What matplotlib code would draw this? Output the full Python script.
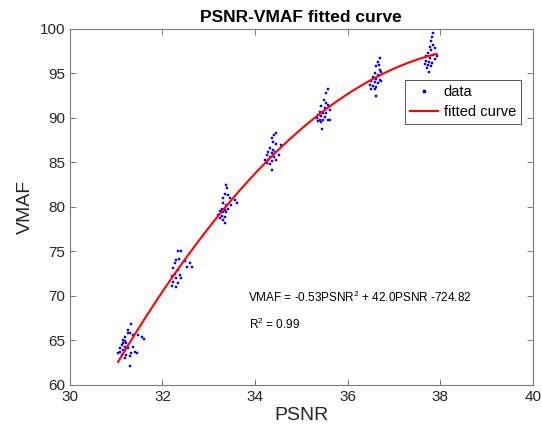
import numpy as np
import matplotlib
matplotlib.use("Agg")
import matplotlib.pyplot as plt

plt.rcParams["font.family"] = ["Liberation Sans", "DejaVu Sans"]
plt.rcParams["mathtext.fontset"] = "custom"
plt.rcParams["mathtext.rm"] = "Liberation Sans"
plt.rcParams["mathtext.it"] = "Liberation Sans:italic"
plt.rcParams["mathtext.default"] = "regular"

# PSNR / VMAF samples, grouped by encoding level
psnr_1 = [31.31, 31.26, 31.25, 31.30, 31.48, 31.55, 31.60, 31.19, 31.20, 31.15,
          31.12, 31.19, 31.08, 31.15, 31.26, 31.37, 31.40, 31.44, 31.04, 31.12,
          31.22, 31.30, 31.19, 31.33, 31.30, 31.08, 31.22, 31.15, 31.37]
vmaf_1 = [66.9, 66.2, 65.8, 65.8, 65.6, 65.4, 65.2, 65.4, 64.9, 64.7,
          64.5, 64.3, 64.1, 63.9, 64.1, 64.3, 63.7, 63.6, 63.6, 63.4,
          63.4, 63.2, 63.0, 63.6, 62.1, 63.7, 64.7, 65.1, 65.6]

psnr_2 = [32.34, 32.39, 32.30, 32.36, 32.27, 32.48, 32.59, 32.63, 32.52, 32.23,
          32.34, 32.27, 32.38, 32.20, 32.30, 32.41, 32.23, 32.34, 32.20, 32.30]
vmaf_2 = [75.0, 75.0, 74.0, 74.2, 73.7, 73.9, 73.7, 73.2, 73.2, 73.1,
          72.9, 72.5, 72.4, 72.2, 72.0, 72.0, 71.6, 71.5, 71.1, 71.0]

psnr_3 = [33.38, 33.40, 33.35, 33.42, 33.31, 33.46, 33.56, 33.60, 33.30, 33.38,
          33.49, 33.28, 33.35, 33.42, 33.24, 33.31, 33.38, 33.20, 33.28, 33.35,
          33.24, 33.31, 33.35]
vmaf_3 = [82.5, 82.1, 81.5, 81.3, 81.0, 81.0, 80.8, 80.4, 80.4, 80.2,
          80.2, 79.8, 79.7, 79.8, 79.5, 79.4, 79.4, 79.1, 79.0, 78.9,
          78.7, 78.5, 78.2]

psnr_4 = [34.45, 34.41, 34.36, 34.38, 34.46, 34.55, 34.32, 34.39, 34.28, 34.36,
          34.43, 34.52, 34.25, 34.32, 34.41, 34.21, 34.28, 34.36, 34.46, 34.25,
          34.33, 34.36]
vmaf_4 = [88.3, 88.1, 87.7, 87.3, 87.1, 87.0, 86.6, 86.4, 86.2, 86.0,
          86.2, 85.8, 85.8, 85.6, 85.6, 85.3, 85.3, 85.2, 85.3, 84.9,
          84.8, 84.2]

psnr_5 = [35.57, 35.54, 35.49, 35.53, 35.58, 35.43, 35.51, 35.62, 35.40, 35.47,
          35.54, 35.36, 35.43, 35.51, 35.33, 35.40, 35.47, 35.58, 35.36, 35.43,
          35.62, 35.45]
vmaf_5 = [93.3, 92.8, 92.0, 91.7, 91.5, 91.3, 91.1, 90.9, 90.7, 90.6,
          90.5, 90.3, 90.2, 90.1, 90.0, 89.8, 89.8, 89.8, 89.6, 89.5,
          89.8, 88.8]

psnr_6 = [36.70, 36.66, 36.68, 36.62, 36.70, 36.73, 36.59, 36.66, 36.55, 36.62,
          36.70, 36.51, 36.59, 36.66, 36.73, 36.48, 36.55, 36.62, 36.51, 36.59,
          36.61]
vmaf_6 = [96.7, 96.3, 95.9, 95.8, 95.4, 95.1, 95.0, 94.8, 94.6, 94.4,
          94.3, 94.1, 94.0, 93.9, 94.1, 93.7, 93.6, 93.5, 93.3, 93.2,
          92.5]

psnr_7 = [37.85, 37.83, 37.81, 37.85, 37.78, 37.88, 37.81, 37.74, 37.85, 37.92,
          37.70, 37.78, 37.88, 37.69, 37.76, 37.83, 37.67, 37.74, 37.81, 37.72,
          37.75]
vmaf_7 = [99.5, 99.1, 98.6, 98.2, 98.0, 97.8, 97.6, 97.3, 97.1, 96.9,
          96.9, 96.7, 96.6, 96.4, 96.3, 96.2, 96.1, 95.9, 95.8, 95.6,
          95.2]

psnr = np.array(psnr_1 + psnr_2 + psnr_3 + psnr_4 + psnr_5 + psnr_6 + psnr_7)
vmaf = np.array(vmaf_1 + vmaf_2 + vmaf_3 + vmaf_4 + vmaf_5 + vmaf_6 + vmaf_7)

# quadratic fit, like MATLAB polyfit(psnr, vmaf, 2)
coef = np.polyfit(psnr, vmaf, 2)
x_fit = np.linspace(psnr.min(), psnr.max(), 200)
y_fit = np.polyval(coef, x_fit)

fig = plt.figure(figsize=(5.42, 4.44), dpi=100)
ax = fig.add_axes([0.129, 0.133, 0.854, 0.802])

ax.plot(psnr, vmaf, linestyle="none", marker="s", markersize=1.8,
        markerfacecolor="#0000ff", markeredgecolor="#0000ff", markeredgewidth=0.3,
        label="data")
ax.plot(x_fit, y_fit, color="#ff0000", linewidth=1.5, label="fitted curve")

ax.set_xlim(30, 40)
ax.set_ylim(60, 100)
ax.set_xticks(np.arange(30, 41, 2))
ax.set_yticks(np.arange(60, 101, 5))

ax.set_title("PSNR-VMAF fitted curve", fontsize=12.5, fontweight="bold", pad=5, color="#000000")
ax.set_xlabel("PSNR", fontsize=14, color="#262626", labelpad=2)
ax.set_ylabel("VMAF", fontsize=14, color="#262626", labelpad=4)

for side in ["top", "right", "bottom", "left"]:
    ax.spines[side].set_color("#7a7a7a")
    ax.spines[side].set_linewidth(0.8)
ax.tick_params(direction="in", length=4, width=0.7, color="#7a7a7a",
               top=True, right=True, labelsize=11, labelcolor="#262626")

ax.text(33.84, 69.8, "VMAF = -0.53PSNR$^2$ + 42.0PSNR -724.82",
        fontsize=8.5, va="center", ha="left", color="#000000")
ax.text(33.86, 66.8, "R$^2$ = 0.99", fontsize=8.5, va="center", ha="left", color="#000000")

leg = ax.legend(loc="upper right", bbox_to_anchor=(0.990, 0.876), fontsize=10.5,
                frameon=True, fancybox=False, edgecolor="#262626",
                handlelength=1.9, handletextpad=0.4, borderpad=0.35,
                labelspacing=0.4, markerscale=1.2)
leg.get_frame().set_linewidth(0.7)

fig.savefig("out.png", dpi=100)
